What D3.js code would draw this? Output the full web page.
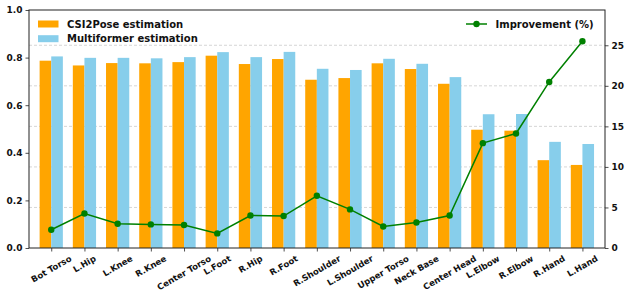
<!DOCTYPE html>
<html>
<head>
<meta charset="utf-8">
<script src="https://cdn.jsdelivr.net/npm/d3@7"></script>
<style>
  body { margin: 0; background: #fff; }
  svg { font-family: "DejaVu Sans", sans-serif; font-weight: bold; }
</style>
</head>
<body>
<script>
// joint names along the x axis
var joints = ["Bot Torso", "L.Hip", "L.Knee", "R.Knee", "Center Torso", "L.Foot", "R.Hip", "R.Foot",
  "R.Shoulder", "L.Shoulder", "Upper Torso", "Neck Base", "Center Head", "L.Elbow", "R.Elbow", "R.Hand", "L.Hand"];

var csi2pose = [0.787, 0.767, 0.777, 0.776, 0.781, 0.808, 0.773, 0.794,
  0.707, 0.714, 0.776, 0.752, 0.690, 0.497, 0.493, 0.369, 0.349];

var multiformer = [0.805, 0.799, 0.799, 0.797, 0.802, 0.823, 0.802, 0.824,
  0.753, 0.748, 0.795, 0.774, 0.718, 0.562, 0.563, 0.446, 0.437];

var improvement = [2.25, 4.26, 2.99, 2.91, 2.83, 1.80, 4.01, 3.94,
  6.44, 4.76, 2.66, 3.15, 4.01, 12.93, 14.12, 20.48, 25.49];

var leftTicks = [0.0, 0.2, 0.4, 0.6, 0.8, 1.0];
var rightTicks = [0, 5, 10, 15, 20, 25];

var width = 630,
    height = 296,
    margin = {top: 10, right: 25, bottom: 48, left: 29};

var svg = d3.select("body").append("svg")
    .attr("width", width)
    .attr("height", height);

var x = d3.scaleLinear()
    .domain([-0.67, joints.length - 1 + 0.68])
    .range([margin.left, width - margin.right]);

var y = d3.scaleLinear()
    .domain([0, 1])
    .range([height - margin.bottom, margin.top]);

var y2 = d3.scaleLinear()
    .domain([0, 29.35])
    .range([height - margin.bottom, margin.top]);

var bw = 0.35;

// grid follows the right axis
svg.append("g").selectAll("line")
    .data(rightTicks.slice(1))
    .enter().append("line")
    .attr("x1", x.range()[0]).attr("x2", x.range()[1])
    .attr("y1", d => y2(d)).attr("y2", d => y2(d))
    .style("stroke", "#ccc")
    .style("stroke-width", 0.8)
    .style("stroke-dasharray", "3,2");

// bars
svg.append("g").selectAll("rect")
    .data(csi2pose)
    .enter().append("rect")
    .attr("x", (d, i) => x(i - bw))
    .attr("width", x(bw) - x(0))
    .attr("y", d => y(d))
    .attr("height", d => y(0) - y(d))
    .style("fill", "orange");

svg.append("g").selectAll("rect")
    .data(multiformer)
    .enter().append("rect")
    .attr("x", (d, i) => x(i))
    .attr("width", x(bw) - x(0))
    .attr("y", d => y(d))
    .attr("height", d => y(0) - y(d))
    .style("fill", "skyblue");

// improvement line
var line = d3.line()
    .x((d, i) => x(i))
    .y(d => y2(d));

svg.append("path")
    .datum(improvement)
    .attr("d", line)
    .style("fill", "none")
    .style("stroke", "green")
    .style("stroke-width", 1.5);

svg.append("g").selectAll("circle")
    .data(improvement)
    .enter().append("circle")
    .attr("cx", (d, i) => x(i))
    .attr("cy", d => y2(d))
    .attr("r", 3.2)
    .style("fill", "green");

// axes
var leftAxis = svg.append("g")
    .attr("transform", "translate(" + margin.left + ",0)")
    .call(d3.axisLeft(y).tickValues(leftTicks).tickFormat(d3.format(".1f")).tickSize(3.5).tickPadding(3));

var rightAxis = svg.append("g")
    .attr("transform", "translate(" + (width - margin.right) + ",0)")
    .call(d3.axisRight(y2).tickValues(rightTicks).tickSize(3.5).tickPadding(3));

var bottomAxis = svg.append("g")
    .attr("transform", "translate(0," + (height - margin.bottom) + ")")
    .call(d3.axisBottom(x).tickValues(d3.range(joints.length)).tickFormat("").tickSize(3.5));

[leftAxis, rightAxis, bottomAxis].forEach(function(a) {
  a.select(".domain").remove();
  a.selectAll("line").style("stroke", "#222").style("stroke-width", 0.8);
  a.selectAll("text").style("font-size", "9px").style("font-weight", "bold")
    .style("font-family", "DejaVu Sans").style("fill", "#111");
});

// frame
svg.append("rect")
    .attr("x", margin.left).attr("y", margin.top)
    .attr("width", width - margin.right - margin.left)
    .attr("height", height - margin.bottom - margin.top)
    .style("fill", "none")
    .style("stroke", "#222")
    .style("stroke-width", 1);

// rotated x labels, centred like matplotlib's ha='center'
var labelTop = height - margin.bottom + 6;
svg.append("g").selectAll("text")
    .data(joints)
    .enter().append("text")
    .text(d => d)
    .style("font-size", "8.5px")
    .style("fill", "#111")
    .attr("text-anchor", "middle")
    .attr("dominant-baseline", "central")
    .each(function(d, i) {
      var w = this.getComputedTextLength(), h = 8.5;
      var bh = w * 0.5 + h * 0.866;
      d3.select(this).attr("transform",
        "translate(" + x(i) + "," + (labelTop + bh / 2) + ") rotate(-30)");
    });

// legend left
var legItems = [["CSI2Pose estimation", "orange"], ["Multiformer estimation", "skyblue"]];
var leg = svg.append("g").selectAll("g")
    .data(legItems)
    .enter().append("g")
    .attr("transform", (d, i) => "translate(38," + (24 + i * 14.7) + ")");
leg.append("rect")
    .attr("x", 0).attr("y", -3.5).attr("width", 20.5).attr("height", 7)
    .style("fill", d => d[1]);
leg.append("text")
    .attr("x", 29).attr("dy", "0.35em")
    .style("font-size", "10px")
    .style("fill", "#111")
    .text(d => d[0]);

// legend right
var leg2 = svg.append("g").attr("transform", "translate(466,24)");
leg2.append("line").attr("x1", 0).attr("x2", 21)
    .style("stroke", "green").style("stroke-width", 1.5);
leg2.append("circle").attr("cx", 10.5).attr("r", 3.2).style("fill", "green");
leg2.append("text")
    .attr("x", 29.5).attr("dy", "0.35em")
    .style("font-size", "10px")
    .style("fill", "#111")
    .text("Improvement (%)");
</script>
</body>
</html>
